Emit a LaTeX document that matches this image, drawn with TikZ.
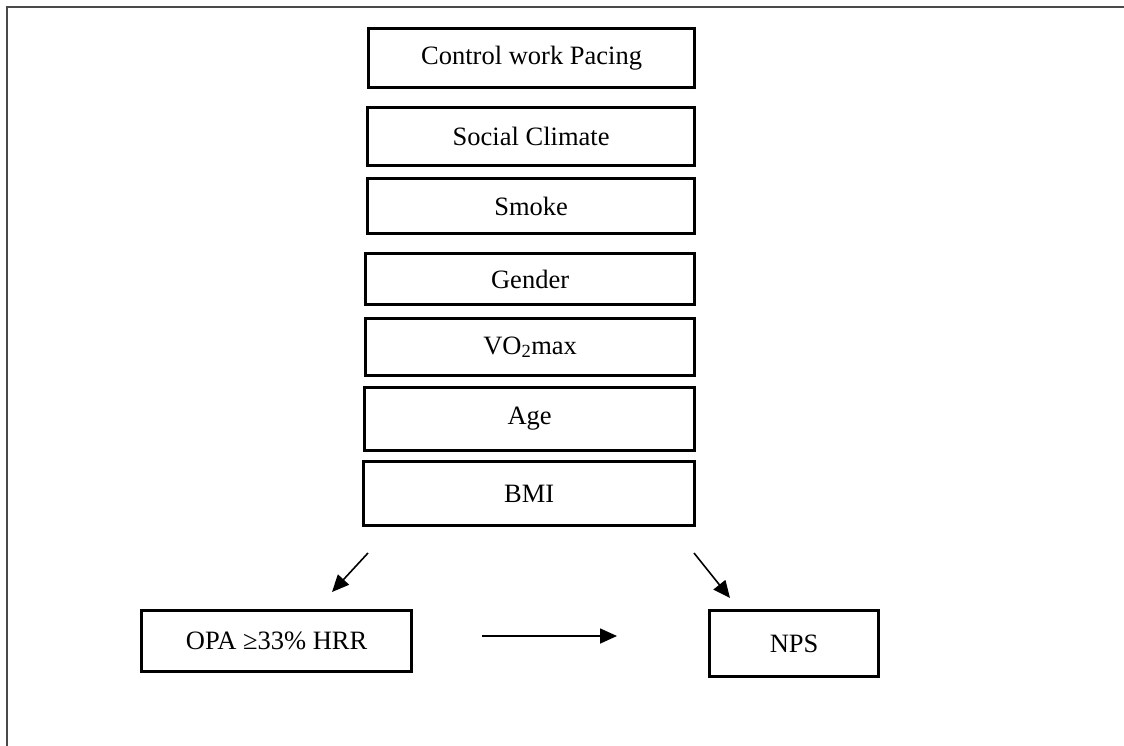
\documentclass[tikz,border=0pt]{standalone}
\usepackage{fontspec}
\setmainfont{Liberation Serif}
\usetikzlibrary{arrows.meta}
\definecolor{framegray}{HTML}{4A4A4A}
\tikzset{
  fbox/.style={draw=black, line width=3.2pt, inner sep=0pt, fill=white,
    font=\fontsize{26.5}{31}\selectfont, anchor=north west},
  arr/.style={line width=1.6pt, -{Triangle[length=17pt,width=15pt]}}
}
\begin{document}
\begin{tikzpicture}[x=1pt,y=-1pt]
\useasboundingbox (0,0) rectangle (1124,745);
\clip (0,0) rectangle (1124,745);
\fill[white] (0,0) rectangle (1124,745);
\draw[framegray, line width=2.6pt] (7,760) -- (7,7) -- (1140,7);

\node[fbox, minimum width=326pt, minimum height=59pt] (cwp) at (367,27) {Control work Pacing};
\node[fbox, minimum width=327pt, minimum height=58pt] (soc) at (366,106) {Social Climate};
\node[fbox, minimum width=327pt, minimum height=55pt] (smk) at (366,177) {Smoke};
\node[fbox, minimum width=329pt, minimum height=51pt] (gen) at (364,252) {Gender};
\node[fbox, minimum width=329pt, minimum height=57pt] (vo) at (364,317) {VO\textsubscript{2}max};
\node[fbox, minimum width=330pt, minimum height=63pt] (age) at (363,386) {Age};
\node[fbox, minimum width=331pt, minimum height=64pt] (bmi) at (362,460) {BMI};

\node[fbox, minimum width=270pt, minimum height=61pt] (opa) at (140,609) {OPA ≥33\% HRR};
\node[fbox, minimum width=169pt, minimum height=66pt] (nps) at (708,609) {NPS};

\coordinate (l1) at (368,553);
\coordinate (l2) at (332,592);
\coordinate (r1) at (694,553);
\coordinate (r2) at (730,598);
\coordinate (h1) at (482,636);
\coordinate (h2) at (617,636);

\draw[arr] (l1) -- (l2);
\draw[arr] (r1) -- (r2);
\draw[arr] (h1) -- (h2);
\end{tikzpicture}
\end{document}
